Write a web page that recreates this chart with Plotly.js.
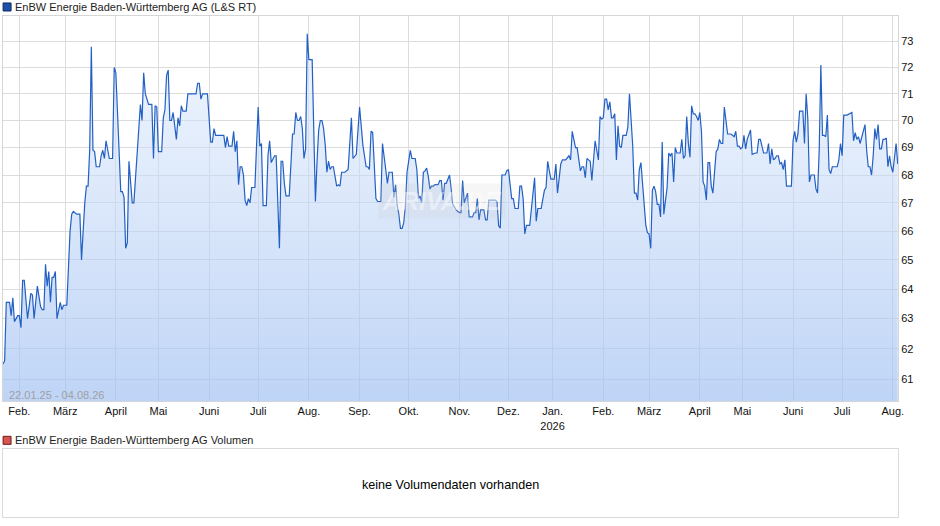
<!DOCTYPE html>
<html>
<head>
<meta charset="utf-8">
<script src="https://cdn.plot.ly/plotly-3.0.1.min.js"></script>
<style>
  html, body { margin: 0; padding: 0; background: #fff; }
  #chart { width: 940px; height: 526px; }
</style>
</head>
<body>
<div id="chart"></div>
<script>
// daily closes, [date, price]
var quotes2025 = [
  ['2025-01-22',61.5],['2025-01-23',61.6],['2025-01-24',63.55],['2025-01-26',63.55],['2025-01-27',63.1],
  ['2025-01-28',63.7],['2025-01-29',62.9],['2025-01-31',63.1],
  ['2025-02-01',63.1],['2025-02-02',62.7],['2025-02-03',64.3],['2025-02-04',64.3],['2025-02-06',63.0],
  ['2025-02-08',63.85],['2025-02-09',63.8],['2025-02-10',63.0],['2025-02-12',64.1],['2025-02-14',63.4],
  ['2025-02-15',63.3],['2025-02-16',63.3],['2025-02-17',64.85],['2025-02-18',64.1],['2025-02-19',64.6],
  ['2025-02-20',63.55],['2025-02-21',64.4],['2025-02-22',64.4],['2025-02-23',64.6],['2025-02-24',63.0],
  ['2025-02-26',63.55],['2025-02-27',63.3],['2025-02-28',63.45],
  ['2025-03-02',63.45],['2025-03-04',66.0],['2025-03-05',66.6],['2025-03-06',66.7],['2025-03-08',66.6],
  ['2025-03-10',66.6],['2025-03-11',65.0],['2025-03-13',67.0],['2025-03-14',67.6],['2025-03-15',67.6],
  ['2025-03-16',68.9],['2025-03-17',72.8],['2025-03-18',68.9],['2025-03-19',68.85],['2025-03-20',68.3],
  ['2025-03-22',68.3],['2025-03-23',68.7],['2025-03-24',68.9],['2025-03-25',68.6],['2025-03-26',69.25],
  ['2025-03-28',68.6],['2025-03-30',68.6],['2025-03-31',72.0],
  ['2025-04-01',71.8],['2025-04-02',70.25],['2025-04-04',67.4],['2025-04-05',67.4],['2025-04-06',67.2],
  ['2025-04-07',65.4],['2025-04-08',65.6],['2025-04-09',68.5],['2025-04-11',67.0],['2025-04-12',67.0],
  ['2025-04-13',67.95],['2025-04-14',68.6],['2025-04-15',69.8],['2025-04-16',70.6],['2025-04-17',70.0],
  ['2025-04-22',71.8],['2025-04-23',71.0],['2025-04-24',70.75],['2025-04-25',70.6],['2025-04-27',70.6],
  ['2025-04-28',68.6],['2025-04-29',70.55],['2025-04-30',70.5],
  ['2025-05-01',68.85],['2025-05-03',68.85],['2025-05-04',70.1],['2025-05-05',70.4],['2025-05-06',71.7],
  ['2025-05-07',71.9],['2025-05-08',70.0],['2025-05-09',70.0],['2025-05-10',70.3],['2025-05-11',69.85],
  ['2025-05-12',69.3],['2025-05-13',70.1],['2025-05-14',69.8],['2025-05-15',70.55],['2025-05-16',70.35],
  ['2025-05-18',70.35],['2025-05-19',71.0],['2025-05-24',71.0],['2025-05-25',71.4],['2025-05-26',71.4],
  ['2025-05-27',70.8],['2025-05-28',71.0],['2025-05-31',71.0],
  ['2025-06-02',69.2],['2025-06-03',69.2],['2025-06-04',69.7],['2025-06-05',69.45],['2025-06-10',69.45],
  ['2025-06-11',69.0],['2025-06-12',69.4],['2025-06-13',69.05],['2025-06-15',69.05],['2025-06-16',69.6],
  ['2025-06-17',68.85],['2025-06-18',69.25],['2025-06-19',67.65],['2025-06-20',68.3],['2025-06-21',68.3],
  ['2025-06-22',68.0],['2025-06-23',67.1],['2025-06-24',66.9],['2025-06-25',67.15],['2025-06-26',67.0],
  ['2025-06-27',67.55],['2025-06-29',67.55],['2025-06-30',69.05],
  ['2025-07-01',70.5],['2025-07-02',69.05],['2025-07-03',69.15],['2025-07-04',66.9],['2025-07-06',66.9],
  ['2025-07-07',68.7],['2025-07-08',69.25],['2025-07-09',68.45],['2025-07-11',68.7],['2025-07-12',68.7],
  ['2025-07-13',67.05],['2025-07-14',65.4],['2025-07-15',68.5],['2025-07-16',68.5],['2025-07-17',67.7],
  ['2025-07-18',67.25],['2025-07-20',67.25],['2025-07-21',68.5],['2025-07-22',69.5],['2025-07-23',69.5],
  ['2025-07-24',70.3],['2025-07-25',70.0],['2025-07-26',70.0],['2025-07-27',70.15],['2025-07-28',69.7],
  ['2025-07-29',68.6],['2025-07-30',68.95],['2025-07-31',73.3],
  ['2025-08-01',72.3],['2025-08-03',72.3],['2025-08-04',69.7],['2025-08-05',67.05],['2025-08-06',68.5],
  ['2025-08-07',69.65],['2025-08-08',70.0],['2025-08-09',70.0],['2025-08-10',69.7],['2025-08-11',69.1],
  ['2025-08-12',68.1],['2025-08-13',68.5],['2025-08-14',68.2],['2025-08-15',68.3],['2025-08-16',68.3],
  ['2025-08-17',67.95],['2025-08-18',67.6],['2025-08-19',67.65],['2025-08-20',67.6],['2025-08-21',68.1],
  ['2025-08-23',68.1],['2025-08-25',68.2],['2025-08-27',70.1],['2025-08-28',68.6],['2025-08-29',68.7],
  ['2025-08-30',68.75],
  ['2025-09-01',70.5],['2025-09-02',69.65],['2025-09-03',69.1],['2025-09-05',68.3],['2025-09-06',68.3],
  ['2025-09-07',68.2],['2025-09-08',69.6],['2025-09-09',69.55],['2025-09-10',68.3],['2025-09-11',67.15],
  ['2025-09-12',67.05],['2025-09-14',67.05],['2025-09-15',69.15],['2025-09-16',68.75],['2025-09-17',68.2],
  ['2025-09-18',67.7],['2025-09-19',68.1],['2025-09-21',68.1],['2025-09-22',67.2],['2025-09-23',67.65],
  ['2025-09-24',66.9],['2025-09-25',66.6],['2025-09-26',66.1],['2025-09-27',66.1],['2025-09-28',66.3],
  ['2025-09-29',66.9],['2025-09-30',68.1],
  ['2025-10-02',68.9],['2025-10-03',68.6],['2025-10-05',68.6],['2025-10-06',68.2],['2025-10-07',67.15],
  ['2025-10-08',67.25],['2025-10-09',67.0],['2025-10-10',68.1],['2025-10-11',68.15],['2025-10-12',68.25],
  ['2025-10-13',67.95],['2025-10-14',67.5],['2025-10-15',67.6],['2025-10-16',67.6],['2025-10-17',67.65],
  ['2025-10-19',67.65],['2025-10-20',67.8],['2025-10-21',67.8],['2025-10-22',67.1],['2025-10-23',67.7],
  ['2025-10-24',67.7],['2025-10-25',67.85],['2025-10-26',68.0],['2025-10-27',67.5],['2025-10-28',66.95],
  ['2025-10-30',66.75],
  ['2025-11-01',66.65],['2025-11-02',66.65],['2025-11-03',67.8],['2025-11-04',67.0],['2025-11-05',67.2],
  ['2025-11-06',67.35],['2025-11-07',66.5],['2025-11-09',66.5],['2025-11-10',66.65],['2025-11-11',66.65],
  ['2025-11-12',67.15],['2025-11-13',66.4],['2025-11-14',66.75],['2025-11-15',66.75],['2025-11-16',66.75],
  ['2025-11-17',66.4],['2025-11-18',66.4],['2025-11-19',67.1],['2025-11-21',67.1],['2025-11-23',67.1],
  ['2025-11-24',67.05],['2025-11-25',66.2],['2025-11-26',66.1],['2025-11-27',68.0],['2025-11-29',68.0],
  ['2025-11-30',68.15],
  ['2025-12-01',68.2],['2025-12-02',67.6],['2025-12-03',67.15],['2025-12-04',67.15],['2025-12-05',66.8],
  ['2025-12-07',66.8],['2025-12-08',67.6],['2025-12-09',67.6],['2025-12-10',67.15],['2025-12-11',65.9],
  ['2025-12-12',66.2],['2025-12-14',66.2],['2025-12-15',66.8],['2025-12-17',67.9],['2025-12-18',66.35],
  ['2025-12-19',66.8],['2025-12-21',66.8],['2025-12-22',67.15],['2025-12-23',67.45],['2025-12-27',67.55],
  ['2025-12-28',68.5],['2025-12-29',68.15],['2025-12-30',67.85]
];

var quotes2026 = [
  ['2026-01-02',67.85],['2026-01-03',68.4],['2026-01-04',67.35],['2026-01-05',68.0],['2026-01-06',68.4],
  ['2026-01-07',68.55],['2026-01-09',68.55],['2026-01-11',68.7],['2026-01-12',68.55],['2026-01-13',69.6],
  ['2026-01-14',69.25],['2026-01-15',69.0],['2026-01-16',69.0],['2026-01-17',68.55],['2026-01-18',68.15],
  ['2026-01-19',68.3],['2026-01-20',68.3],['2026-01-21',67.9],['2026-01-22',68.6],['2026-01-23',68.55],
  ['2026-01-24',68.5],['2026-01-25',67.8],['2026-01-26',68.6],['2026-01-27',69.25],['2026-01-29',68.55],
  ['2026-01-30',70.15],['2026-01-31',70.05],
  ['2026-02-01',70.1],['2026-02-02',70.8],['2026-02-03',70.8],['2026-02-04',70.4],['2026-02-05',70.7],
  ['2026-02-06',70.1],['2026-02-07',70.1],['2026-02-08',70.25],['2026-02-09',68.55],['2026-02-10',69.8],
  ['2026-02-11',69.05],['2026-02-12',69.0],['2026-02-13',69.45],['2026-02-15',69.45],['2026-02-16',69.75],
  ['2026-02-17',71.0],['2026-02-18',70.1],['2026-02-19',69.05],['2026-02-20',67.35],['2026-02-21',67.35],
  ['2026-02-22',67.1],['2026-02-23',68.2],['2026-02-24',68.45],['2026-02-25',67.7],['2026-02-26',66.7],
  ['2026-02-27',66.2],['2026-02-28',65.95],
  ['2026-03-01',65.9],['2026-03-02',65.4],['2026-03-03',67.45],['2026-03-04',67.6],['2026-03-05',67.4],
  ['2026-03-06',66.95],['2026-03-07',66.95],['2026-03-08',66.5],['2026-03-09',69.2],['2026-03-10',66.6],
  ['2026-03-11',67.15],['2026-03-12',67.55],['2026-03-13',68.8],['2026-03-14',68.7],['2026-03-15',68.8],
  ['2026-03-16',67.75],['2026-03-17',69.0],['2026-03-18',68.8],['2026-03-20',68.8],['2026-03-21',69.3],
  ['2026-03-22',68.6],['2026-03-23',68.7],['2026-03-24',70.15],['2026-03-25',69.15],['2026-03-26',68.65],
  ['2026-03-27',70.55],['2026-03-28',70.25],['2026-03-29',70.25],['2026-03-30',70.15],['2026-03-31',70.0],
  ['2026-04-01',70.3],['2026-04-02',69.6],['2026-04-07',67.75],['2026-04-08',67.6],['2026-04-09',67.1],
  ['2026-04-10',68.45],['2026-04-11',68.45],['2026-04-12',67.6],['2026-04-13',67.35],['2026-04-14',68.2],
  ['2026-04-15',68.85],['2026-04-16',68.95],['2026-04-17',69.3],['2026-04-18',69.15],['2026-04-19',69.15],
  ['2026-04-20',70.5],['2026-04-21',69.95],['2026-04-22',69.5],['2026-04-24',69.5],['2026-04-25',69.45],
  ['2026-04-26',69.4],['2026-04-27',69.6],['2026-04-28',69.05],['2026-04-29',69.05],['2026-04-30',68.95],
  ['2026-05-01',69.0],['2026-05-02',69.45],['2026-05-03',68.95],['2026-05-04',69.3],['2026-05-06',69.65],
  ['2026-05-07',68.75],['2026-05-09',68.8],['2026-05-10',68.8],['2026-05-11',69.3],['2026-05-12',69.3],
  ['2026-05-13',69.05],['2026-05-14',68.8],['2026-05-16',68.8],['2026-05-17',69.15],['2026-05-18',68.4],
  ['2026-05-19',68.95],['2026-05-20',68.55],['2026-05-21',68.6],['2026-05-22',68.7],['2026-05-23',68.7],
  ['2026-05-24',68.4],['2026-05-25',68.45],['2026-05-26',68.2],['2026-05-27',68.55],['2026-05-28',67.6],
  ['2026-05-31',67.6],
  ['2026-06-01',69.25],['2026-06-02',69.6],['2026-06-03',69.2],['2026-06-04',69.5],['2026-06-05',70.35],
  ['2026-06-07',70.35],['2026-06-08',69.15],['2026-06-09',71.0],['2026-06-10',70.1],['2026-06-11',67.75],
  ['2026-06-12',68.0],['2026-06-14',68.0],['2026-06-15',67.5],['2026-06-16',67.35],['2026-06-17',68.9],
  ['2026-06-18',72.1],['2026-06-19',69.45],['2026-06-20',69.45],['2026-06-21',69.4],['2026-06-22',70.2],
  ['2026-06-23',68.2],['2026-06-24',68.05],['2026-06-25',68.3],['2026-06-27',68.3],['2026-06-28',68.3],
  ['2026-06-29',68.55],['2026-06-30',69.15],
  ['2026-07-01',68.7],['2026-07-02',70.2],['2026-07-04',70.2],['2026-07-06',70.25],['2026-07-07',70.3],
  ['2026-07-08',69.25],['2026-07-09',69.55],['2026-07-10',69.3],['2026-07-11',69.4],['2026-07-12',69.15],
  ['2026-07-13',69.4],['2026-07-14',69.7],['2026-07-15',69.85],['2026-07-16',68.9],['2026-07-17',68.3],
  ['2026-07-18',68.3],['2026-07-19',68.0],['2026-07-20',68.7],['2026-07-21',69.7],['2026-07-22',69.3],
  ['2026-07-23',69.85],['2026-07-24',68.95],['2026-07-25',68.95],['2026-07-26',69.3],['2026-07-27',69.3],
  ['2026-07-28',69.35],['2026-07-29',68.3],['2026-07-30',68.7],['2026-07-31',68.3],
  ['2026-08-01',68.1],['2026-08-02',68.55],['2026-08-03',69.15],['2026-08-04',68.4]
];

// days without any trading, left out of the time axis
var closedDays = ['2025-04-18','2025-04-19','2025-04-20','2025-04-21',
                  '2025-12-24','2025-12-25','2025-12-26','2025-12-31',
                  '2026-04-03','2026-04-04','2026-04-05','2026-04-06'];

var monthTicks = ['2025-02-01','2025-03-01','2025-04-01','2025-05-01','2025-06-01','2025-07-01',
                  '2025-08-01','2025-09-01','2025-10-01','2025-11-01','2025-12-01','2026-01-01',
                  '2026-02-01','2026-03-01','2026-04-01','2026-05-01','2026-06-01','2026-07-01','2026-08-01'];
var monthLabels = ['Feb.','März','April','Mai','Juni','Juli','Aug.','Sep.','Okt.','Nov.','Dez.','Jan.<br>2026',
                   'Feb.','März','April','Mai','Juni','Juli','Aug.'];

var yTicks = [61, 62, 63, 64, 65, 66, 67, 68, 69, 70, 71, 72, 73];

var allQuotes = quotes2025.concat(quotes2026);
var days = allQuotes.map(function(q) { return q[0]; });
var close = allQuotes.map(function(q) { return q[1]; });

var price_plot = {
    x: days,
    y: close,
    type: 'scatter',
    mode: 'lines',
    line: {color: '#2360c4', width: 1.2},
    fill: 'tozeroy',
    fillgradient: {
        type: 'vertical',
        start: 60.3,
        stop: 74,
        colorscale: [[0, 'rgba(160,192,242,0.68)'], [1, 'rgba(222,234,252,0.45)']]
    },
    hoverinfo: 'skip',
    xaxis: 'x',
    yaxis: 'y'
};

var volume_plot = {x: [], y: [], type: 'scatter', xaxis: 'x2', yaxis: 'y2', hoverinfo: 'skip'};

var frameColor = '#d6d6d6';

var layout = {
    width: 940,
    height: 526,
    margin: {l: 3, r: 42, t: 16, b: 9},
    paper_bgcolor: '#ffffff',
    plot_bgcolor: '#ffffff',
    showlegend: false,
    font: {family: 'Liberation Sans, Arial, sans-serif', size: 11, color: '#000'},
    xaxis: {
        type: 'date',
        anchor: 'y',
        range: ['2025-01-22', '2026-08-04 04:00'],
        rangebreaks: [{values: closedDays}],
        tickmode: 'array',
        tickvals: monthTicks,
        ticktext: monthLabels,
        ticks: '',
        tickfont: {size: 11, color: '#111'},
        showgrid: true,
        gridcolor: '#dcdcdc',
        gridwidth: 1,
        zeroline: false,
        showline: true,
        mirror: true,
        linecolor: frameColor,
        linewidth: 1
    },
    yaxis: {
        type: 'log',
        domain: [0.2315, 1],
        range: [Math.log10(60.3), Math.log10(74)],
        side: 'right',
        tickmode: 'array',
        tickvals: yTicks,
        ticktext: yTicks.map(String),
        ticks: '',
        tickfont: {size: 11, color: '#111'},
        showgrid: true,
        gridcolor: '#dcdcdc',
        gridwidth: 1,
        zeroline: false,
        showline: true,
        mirror: true,
        linecolor: frameColor,
        linewidth: 1
    },
    xaxis2: {
        anchor: 'y2', range: [0, 1], showgrid: false, zeroline: false,
        showticklabels: false, ticks: '', showline: true, mirror: true, linecolor: '#dadada'
    },
    yaxis2: {
        anchor: 'x2', domain: [0, 0.1357], range: [0, 1], showgrid: false, zeroline: false,
        showticklabels: false, ticks: '', showline: true, mirror: true, linecolor: '#dadada'
    },
    shapes: [
        {type: 'rect', xref: 'paper', yref: 'paper', x0: 0.0001, x1: 0.0090, y0: 1.0100, y1: 1.0260,
         fillcolor: '#1f4fa8', line: {color: '#0f2a5e', width: 1}},
        {type: 'rect', xref: 'paper', yref: 'paper', x0: 0.0001, x1: 0.0090, y0: 0.1450, y1: 0.1610,
         fillcolor: '#d9534f', line: {color: '#6b1d1b', width: 1}}
    ],
    annotations: [
        {text: 'EnBW Energie Baden-Württemberg AG (L&S RT)', xref: 'paper', yref: 'paper',
         x: 0.0112, y: 1.0185, xanchor: 'left', yanchor: 'middle', showarrow: false,
         font: {size: 11, color: '#222'}},
        {text: 'EnBW Energie Baden-Württemberg AG Volumen', xref: 'paper', yref: 'paper',
         x: 0.0112, y: 0.1530, xanchor: 'left', yanchor: 'middle', showarrow: false,
         font: {size: 11, color: '#222'}},
        {text: '22.01.25 - 04.08.26', xref: 'paper', yref: 'y domain',
         x: 0.005, y: 0.016, xanchor: 'left', yanchor: 'middle', showarrow: false,
         font: {size: 11, color: '#a0a0a0'}},
        {text: 'keine Volumendaten vorhanden', xref: 'x2 domain', yref: 'y2 domain',
         x: 0.5, y: 0.47, xanchor: 'center', yanchor: 'middle', showarrow: false,
         font: {size: 12.6, color: '#000'}},
        {text: '<b><i>ARIVA.DE</i></b>', xref: 'paper', yref: 'y domain',
         x: 0.49, y: 0.52, xanchor: 'center', yanchor: 'middle', showarrow: false, borderpad: 3,
         font: {size: 25, color: 'rgba(255,255,255,0.45)'}, bgcolor: 'rgba(190,190,190,0.14)'}
    ]
};

Plotly.newPlot('chart', [price_plot, volume_plot], layout, {displayModeBar: false, staticPlot: true});
</script>
</body>
</html>
